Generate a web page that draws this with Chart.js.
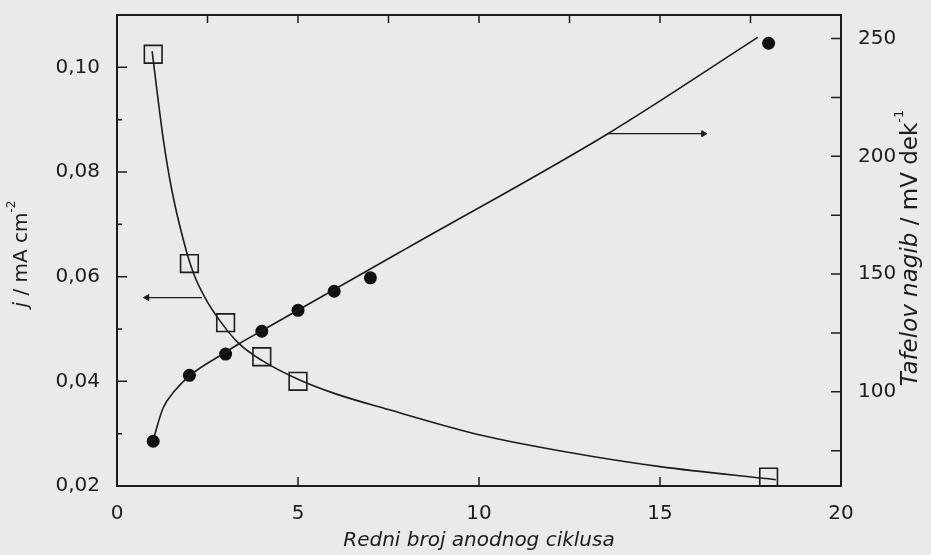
<!DOCTYPE html>
<html>
<head>
<meta charset="utf-8">
<script src="https://cdn.jsdelivr.net/npm/chart.js@4/dist/chart.umd.min.js"></script>
<style>
  html,body{margin:0;padding:0;background:#e9eae9;}
  #wrap{width:931px;height:555px;}
</style>
</head>
<body>
<div id="wrap"><canvas id="c"></canvas></div>
<script>
// Current density j (open squares, left axis)
const jCycles = [1, 2, 3, 4, 5, 18];
const jValues = [0.1025, 0.0625, 0.0512, 0.0447, 0.0400, 0.0217];
// Tafel slope (filled circles, right axis)
const tafelCycles = [1, 2, 3, 4, 5, 6, 7, 18];
const tafelValues = [79, 107, 116, 125.7, 134.6, 142.7, 148.4, 248];
// fitted curves
const jFitX = [0.97, 1.1, 1.28, 1.51, 1.83, 2.11, 2.43, 2.85, 3.37, 4, 5, 6, 7.5, 10, 12.5, 15, 18.2];
const jFitY = [0.1031, 0.0958, 0.0862, 0.0767, 0.0671, 0.0607, 0.0560, 0.0515, 0.0472, 0.0440, 0.0404, 0.0377, 0.0346, 0.0298, 0.0264, 0.0237, 0.0212];
const tafelFitX = [1, 1.27, 1.6, 2, 3, 3.37, 4, 8, 13.56, 17.7];
const tafelFitY = [79.5, 93, 100.5, 106.8, 116.8, 120.4, 125.9, 160.9, 209.6, 250.5];
// arrows
const leftArrowX = [2.35, 0.83], leftArrowY = 0.056;
const rightArrowX = [13.56, 16.2], rightArrowY = 209.6;
// ticks
const xTicks = [0, 5, 10, 15, 20];
const xTopTicks = [2.5, 5, 7.5, 10, 12.5, 15, 17.5];
const jTicks = [0.02, 0.04, 0.06, 0.08, 0.10];
const jMinor = [0.03, 0.05, 0.07, 0.09];
const tafelTicks = [100, 150, 200, 250];
const tafelMinor = [75, 125, 175, 225];

const INK = '#1c1c1c';
const FONT = '"DejaVu Sans", sans-serif';

const pts = (xs, ys) => xs.map((x, i) => ({x, y: Array.isArray(ys) ? ys[i] : ys}));

function drawRuns(ctx, runs, x, y, angle){
  ctx.save();
  ctx.translate(x, y);
  ctx.rotate(angle);
  ctx.textBaseline = 'middle';
  ctx.textAlign = 'left';
  let total = 0;
  runs.forEach(r => { ctx.font = r.font; r.w = ctx.measureText(r.t).width; total += r.w; });
  let cx = -total / 2;
  runs.forEach(r => { ctx.font = r.font; ctx.fillText(r.t, cx, r.dy || 0); cx += r.w; });
  ctx.restore();
}

const framePlugin = {
  id: 'frame',
  afterDraw(chart){
    const ctx = chart.ctx, a = chart.chartArea;
    const sx = chart.scales.x, sy = chart.scales.y, sy2 = chart.scales.y2;
    ctx.save();
    ctx.strokeStyle = INK;
    ctx.fillStyle = INK;
    ctx.lineWidth = 2;
    ctx.strokeRect(a.left, a.top, a.right - a.left, a.bottom - a.top);
    ctx.lineWidth = 1.5;
    ctx.beginPath();
    xTicks.slice(1, -1).forEach(v => {
      const p = sx.getPixelForValue(v);
      ctx.moveTo(p, a.bottom); ctx.lineTo(p, a.bottom - 9);
    });
    xTopTicks.forEach(v => {
      const p = sx.getPixelForValue(v);
      ctx.moveTo(p, a.top); ctx.lineTo(p, a.top + 8);
    });
    jTicks.forEach(v => {
      const p = sy.getPixelForValue(v);
      ctx.moveTo(a.left, p); ctx.lineTo(a.left + 10, p);
    });
    jMinor.forEach(v => {
      const p = sy.getPixelForValue(v);
      ctx.moveTo(a.left, p); ctx.lineTo(a.left + 5, p);
    });
    tafelTicks.concat(tafelMinor).forEach(v => {
      const p = sy2.getPixelForValue(v);
      ctx.moveTo(a.right, p); ctx.lineTo(a.right - 10, p);
    });
    ctx.stroke();

    // axis titles
    drawRuns(ctx, [
      {t: 'j', font: 'italic 20px ' + FONT},
      {t: ' / mA cm', font: '20px ' + FONT},
      {t: '-2', font: '12px ' + FONT, dy: -10}
    ], 22, 254, -Math.PI / 2);
    drawRuns(ctx, [
      {t: 'Tafelov nagib', font: 'italic 23px ' + FONT},
      {t: ' / mV dek', font: '23px ' + FONT},
      {t: '-1', font: '13px ' + FONT, dy: -11}
    ], 911, 248, -Math.PI / 2);
    drawRuns(ctx, [
      {t: 'Redni broj anodnog ciklusa', font: 'italic 20px ' + FONT}
    ], (a.left + a.right) / 2, 541, 0);
    ctx.restore();
  }
};

const tickFont = {family: FONT, size: 20};
const noPad = s => { s.paddingTop = 0; s.paddingBottom = 0; };

new Chart(document.getElementById('c'), {
  type: 'line',
  data: {
    datasets: [
      {
        data: pts(jFitX, jFitY), yAxisID: 'y',
        borderColor: INK, borderWidth: 1.6, pointRadius: 0,
        cubicInterpolationMode: 'monotone'
      },
      {
        data: pts(jCycles, jValues), yAxisID: 'y', showLine: false,
        pointStyle: 'rect', pointRadius: 12.5, pointBorderWidth: 1.6,
        pointBorderColor: INK, pointBackgroundColor: 'rgba(0,0,0,0)'
      },
      {
        data: pts(tafelFitX, tafelFitY), yAxisID: 'y2',
        borderColor: INK, borderWidth: 1.6, pointRadius: 0,
        cubicInterpolationMode: 'monotone'
      },
      {
        data: pts(tafelCycles, tafelValues), yAxisID: 'y2', showLine: false,
        pointStyle: 'circle', pointRadius: 6.5, pointBorderWidth: 0,
        pointBackgroundColor: '#111'
      },
      {
        data: pts(leftArrowX, leftArrowY), yAxisID: 'y',
        borderColor: INK, borderWidth: 1.3,
        pointStyle: 'triangle', pointRadius: [0, 3.5], pointRotation: -90,
        pointBackgroundColor: INK, pointBorderColor: INK, pointBorderWidth: 1
      },
      {
        data: pts(rightArrowX, rightArrowY), yAxisID: 'y2',
        borderColor: INK, borderWidth: 1.3,
        pointStyle: 'triangle', pointRadius: [0, 3.5], pointRotation: 90,
        pointBackgroundColor: INK, pointBorderColor: INK, pointBorderWidth: 1
      }
    ]
  },
  options: {
    responsive: true,
    maintainAspectRatio: false,
    animation: false,
    layout: {padding: {top: 15, left: 0, right: 0, bottom: 0}},
    plugins: {legend: {display: false}, tooltip: {enabled: false}},
    scales: {
      x: {
        type: 'linear', position: 'bottom', min: 0, max: 20,
        grid: {display: false}, border: {display: false},
        afterBuildTicks: s => { s.ticks = xTicks.map(v => ({value: v})); },
        afterFit: s => { s.height = 69; s.paddingLeft = 0; s.paddingRight = 0; },
        ticks: {font: tickFont, color: INK, padding: 8, maxRotation: 0}
      },
      y: {
        type: 'linear', position: 'left', min: 0.02, max: 0.11,
        grid: {display: false}, border: {display: false},
        afterBuildTicks: s => { s.ticks = jTicks.map(v => ({value: v})); },
        afterFit: s => { s.width = 117; noPad(s); },
        ticks: {font: tickFont, color: INK, padding: 9,
          callback: v => v.toFixed(2).replace('.', ',')}
      },
      y2: {
        type: 'linear', position: 'right', min: 60, max: 260,
        grid: {display: false}, border: {display: false},
        afterBuildTicks: s => { s.ticks = tafelTicks.map(v => ({value: v})); },
        afterFit: s => { s.width = 90; noPad(s); },
        ticks: {font: tickFont, color: INK, padding: 9}
      }
    }
  },
  plugins: [framePlugin]
});
</script>
</body>
</html>
